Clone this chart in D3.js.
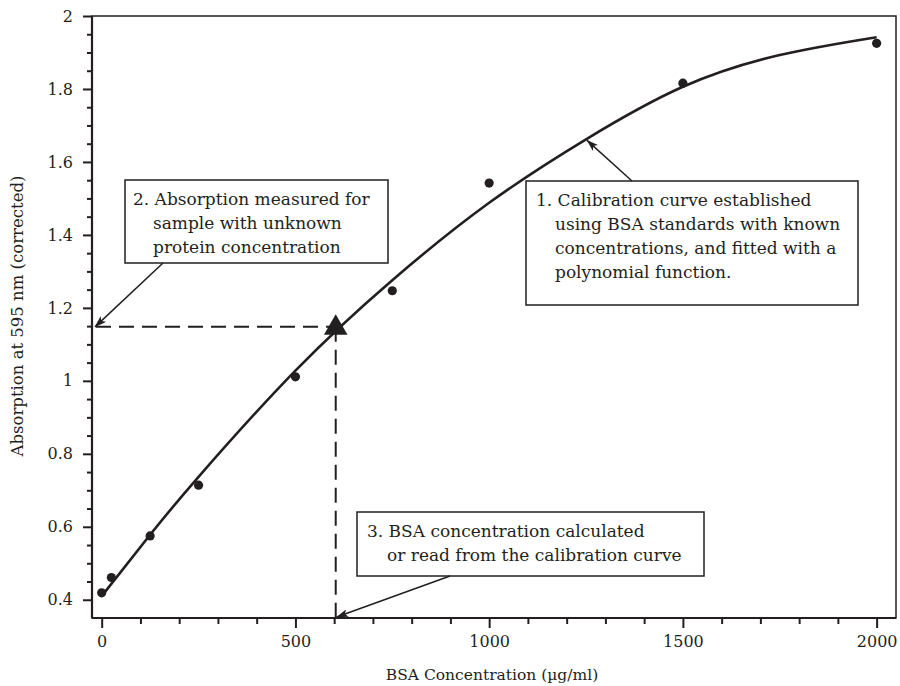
<!DOCTYPE html>
<html>
<head>
<meta charset="utf-8">
<script src="https://cdn.jsdelivr.net/npm/d3@7"></script>
<style>
	body { margin: 0; background: #fff; }
	svg text { font-family: "DejaVu Serif", "Liberation Serif", serif; fill: #231f20; }
</style>
</head>
<body>
<script>
(function () {
	"use strict";

	var w = 900;
	var h = 686;

	// BSA standards (µg/ml) and measured absorption
	var stdConc = [0, 25, 125, 250, 500, 750, 1000, 1500, 2000];
	var stdAbs = [0.419, 0.461, 0.575, 0.714, 1.011, 1.247, 1.542, 1.816, 1.925];

	// fitted polynomial curve
	var fitConc = [0, 125, 250, 500, 750, 1000, 1250, 1500, 1750, 2000];
	var fitAbs = [0.41, 0.578, 0.737, 1.028, 1.276, 1.488, 1.662, 1.806, 1.893, 1.942];

	// unknown sample
	var sampleConc = 604;
	var sampleAbs = 1.148;

	var xMajor = [0, 500, 1000, 1500, 2000];
	var xMinor = [100, 200, 300, 400, 600, 700, 800, 900, 1100, 1200, 1300, 1400, 1600, 1700, 1800, 1900];
	var yMajor = [0.4, 0.6, 0.8, 1.0, 1.2, 1.4, 1.6, 1.8, 2.0];
	var yMinor = [0.45, 0.5, 0.55, 0.65, 0.7, 0.75, 0.85, 0.9, 0.95, 1.05, 1.1, 1.15, 1.25, 1.3, 1.35,
		1.45, 1.5, 1.55, 1.65, 1.7, 1.75, 1.85, 1.9, 1.95];

	var ink = "#231f20";

	var xScale = d3.scaleLinear().domain([-25, 2050]).range([92, 896]);
	var yScale = d3.scaleLinear().domain([0.35, 2]).range([618, 16]);

	var svg = d3.select("body").append("svg")
		.attr("width", w)
		.attr("height", h);

	var defs = svg.append("defs");
	defs.append("marker")
		.attr("id", "arr")
		.attr("viewBox", "0 0 12 8")
		.attr("refX", 11.5)
		.attr("refY", 4)
		.attr("markerWidth", 12)
		.attr("markerHeight", 8)
		.attr("markerUnits", "userSpaceOnUse")
		.attr("orient", "auto")
		.append("path")
		.attr("d", "M0,0 L12,4 L0,8 L3,4 Z")
		.attr("fill", ink);

	// frame
	svg.append("rect")
		.attr("x", 92).attr("y", 16)
		.attr("width", 896 - 92).attr("height", 618 - 16)
		.attr("fill", "none")
		.attr("stroke", ink)
		.attr("stroke-width", 1.5);

	// axes
	function styleAxis(g) {
		g.select(".domain").remove();
		g.selectAll("line").attr("stroke", ink).attr("stroke-width", 2);
		g.selectAll("text").attr("font-size", 16).style("fill", ink);
	}

	svg.append("g")
		.attr("transform", "translate(0,618)")
		.call(d3.axisBottom(xScale).tickValues(xMinor).tickSize(6).tickFormat(""))
		.call(styleAxis);
	svg.append("g")
		.attr("transform", "translate(0,618)")
		.call(d3.axisBottom(xScale).tickValues(xMajor).tickSize(10).tickPadding(8).tickFormat(d3.format("d")))
		.call(styleAxis);

	svg.append("g")
		.attr("transform", "translate(92,0)")
		.call(d3.axisLeft(yScale).tickValues(yMinor).tickSize(5).tickFormat(""))
		.call(styleAxis);
	svg.append("g")
		.attr("transform", "translate(92,0)")
		.call(d3.axisLeft(yScale).tickValues(yMajor).tickSize(9).tickPadding(10).tickFormat((d) => String(+d.toFixed(1))))
		.call(styleAxis);

	svg.append("line")
		.attr("x1", 92).attr("x2", 896).attr("y1", 618).attr("y2", 618)
		.attr("stroke", ink).attr("stroke-width", 2.2);
	svg.append("line")
		.attr("x1", 92).attr("x2", 92).attr("y1", 16).attr("y2", 618)
		.attr("stroke", ink).attr("stroke-width", 2.2);

	// axis titles
	svg.append("text")
		.attr("x", 492).attr("y", 680)
		.attr("text-anchor", "middle")
		.attr("font-size", 15.5)
		.text("BSA Concentration (µg/ml)");
	svg.append("text")
		.attr("transform", "translate(23,316) rotate(-90)")
		.attr("text-anchor", "middle")
		.attr("font-size", 16.5)
		.text("Absorption at 595 nm (corrected)");

	// fitted curve
	var lineFun = d3.line()
		.x((d, i) => xScale(fitConc[i]))
		.y((d) => yScale(d))
		.curve(d3.curveNatural);

	svg.append("path")
		.attr("d", lineFun(fitAbs))
		.attr("fill", "none")
		.attr("stroke", ink)
		.attr("stroke-width", 2.6);

	// standards
	svg.selectAll("circle.std")
		.data(stdAbs)
		.enter().append("circle")
		.attr("class", "std")
		.attr("cx", (d, i) => xScale(stdConc[i]))
		.attr("cy", (d) => yScale(d))
		.attr("r", 4.6)
		.attr("fill", ink);

	// dashed read-off lines
	var sx = xScale(sampleConc);
	var sy = yScale(sampleAbs);
	svg.append("line")
		.attr("x1", 96).attr("x2", sx).attr("y1", sy).attr("y2", sy)
		.attr("stroke", ink).attr("stroke-width", 2)
		.attr("stroke-dasharray", "15,8");
	svg.append("line")
		.attr("x1", sx).attr("x2", sx).attr("y1", sy).attr("y2", 617)
		.attr("stroke", ink).attr("stroke-width", 2)
		.attr("stroke-dasharray", "15,8");

	svg.append("path")
		.attr("d", d3.symbol().type(d3.symbolTriangle).size(240)())
		.attr("transform", "translate(" + sx + "," + (sy + 1) + ")")
		.attr("fill", ink);

	// annotation boxes
	function note(x, y, bw, bh, lines) {
		svg.append("rect")
			.attr("x", x).attr("y", y)
			.attr("width", bw).attr("height", bh)
			.attr("fill", "#fff")
			.attr("stroke", ink)
			.attr("stroke-width", 1.5);
		lines.forEach(function (l, i) {
			svg.append("text")
				.attr("x", l[0]).attr("y", y + 25 + i * 24)
				.attr("font-size", 17)
				.text(l[1]);
		});
	}

	function arrow(x1, y1, x2, y2) {
		svg.append("line")
			.attr("x1", x1).attr("y1", y1).attr("x2", x2).attr("y2", y2)
			.attr("stroke", ink)
			.attr("stroke-width", 1.5)
			.attr("marker-end", "url(#arr)");
	}

	note(526, 181, 332, 124, [
		[536, "1. Calibration curve established"],
		[555, "using BSA standards with known"],
		[555, "concentrations, and fitted with a"],
		[555, "polynomial function."]
	]);
	arrow(632, 181, xScale(1250) + 1, yScale(1.662) + 1);

	note(125, 180, 263, 83, [
		[133, "2. Absorption measured for"],
		[153, "sample with unknown"],
		[153, "protein concentration"]
	]);
	arrow(163, 263, 95, sy);

	note(357, 512, 347, 64, [
		[367, "3. BSA concentration calculated"],
		[387, "or read from the calibration curve"]
	]);
	arrow(450, 576, sx + 1, 617);
})();
</script>
</body>
</html>
